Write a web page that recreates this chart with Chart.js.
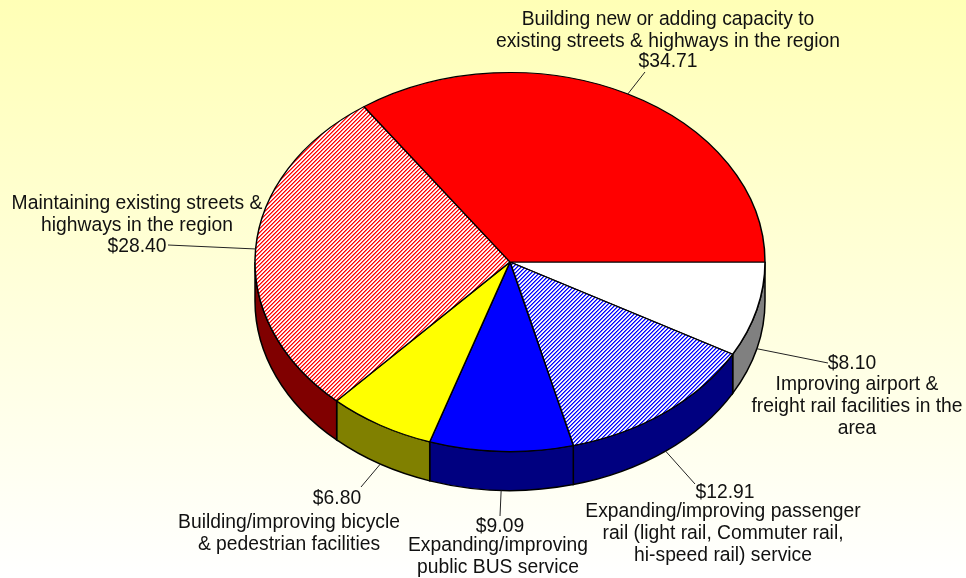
<!DOCTYPE html>
<html>
<head>
<meta charset="utf-8">
<style>
  html, body { margin: 0; padding: 0; width: 966px; height: 578px; overflow: hidden; background: linear-gradient(#ffffb6, #ffffff); }
  #wrap { position: absolute; left: 0; top: 0; width: 966px; height: 578px; }
</style>
<script src="https://cdn.jsdelivr.net/npm/chart.js@4"></script>
</head>
<body>
<div id="wrap"><canvas id="pie" width="966" height="578" role="img" aria-label="Spending by transportation category"></canvas></div>
<script>
// slices run clockwise from 3 o'clock
const categories = [
  'Improving airport & freight rail facilities in the area',
  'Expanding/improving passenger rail (light rail, Commuter rail, hi-speed rail) service',
  'Expanding/improving public BUS service',
  'Building/improving bicycle & pedestrian facilities',
  'Maintaining existing streets & highways in the region',
  'Building new or adding capacity to existing streets & highways in the region'
];
const values = [8.10, 12.91, 9.09, 6.80, 28.40, 34.71];
const labelLines = [
  ['Improving airport &', 'freight rail facilities in the', 'area'],
  ['Expanding/improving passenger', 'rail (light rail, Commuter rail,', 'hi-speed rail) service'],
  ['Expanding/improving', 'public BUS service'],
  ['Building/improving bicycle', '& pedestrian facilities'],
  ['Maintaining existing streets &', 'highways in the region'],
  ['Building new or adding capacity to', 'existing streets & highways in the region']
];
const topColors = ['#ffffff', 'hatch:#0000ff', '#0000ff', '#ffff00', 'hatch:#ff0000', '#ff0000'];
const wallColors = ['#808080', '#000080', '#000080', '#808000', '#800000', '#800000'];

// pie shape on the page
const pieCx = 510, pieCy = 262, pieRx = 255, pieRy = 189.5, pieDepth = 39;
const lineHeight = 22;
// text placement per slice: text block centre, value centre, leader end
const labelSpots = [
  { tx: 857, ty: 385, vx: 852, vy: 364, ex: 828, ey: 363 },
  { tx: 723, ty: 512, vx: 725, vy: 493, ex: 695, ey: 484 },
  { tx: 498, ty: 546, vx: 500, vy: 527, ex: 500, ey: 516 },
  { tx: 289, ty: 523, vx: 337, vy: 499, ex: 361, ey: 487 },
  { tx: 137, ty: 204, vx: 137, vy: 247, ex: 168, ey: 245 },
  { tx: 668, ty: 20,  vx: 668, vy: 62,  ex: 645, ey: 72 }
];

// fine diagonal hatch, soft edge on each stripe like the resampled original
function makeHatch(color) {
  const tile = document.createElement('canvas');
  tile.width = 4;
  tile.height = 4;
  const t = tile.getContext('2d');
  t.fillStyle = '#ffffff';
  t.fillRect(0, 0, 4, 4);
  t.fillStyle = color;
  const alphas = [1, 0.6, 0, 0.12];
  for (let y = 0; y < 4; y++) {
    for (let d = 0; d < 4; d++) {
      t.globalAlpha = alphas[d];
      t.fillRect((3 - y + d) % 4, y, 1, 1);
    }
  }
  return t.createPattern(tile, 'repeat');
}

const fills = topColors.map(c => c.startsWith('hatch:') ? makeHatch(c.slice(6)) : c);

const pie3d = {
  id: 'pie3d',
  beforeDatasetsDraw(chart) {
    const ctx = chart.ctx;
    const arcs = chart.getDatasetMeta(0).data;
    // side walls, only the front half of the rim can show
    ctx.save();
    ctx.lineWidth = 1.5;
    ctx.strokeStyle = '#000000';
    arcs.forEach((arc, i) => {
      const a0 = Math.max(arc.startAngle, 0);
      const a1 = Math.min(arc.endAngle, Math.PI);
      if (a1 <= a0) return;
      ctx.beginPath();
      ctx.ellipse(pieCx, pieCy, pieRx, pieRy, 0, a0, a1);
      ctx.ellipse(pieCx, pieCy + pieDepth, pieRx, pieRy, 0, a1, a0, true);
      ctx.closePath();
      ctx.fillStyle = wallColors[i];
      ctx.fill();
      ctx.stroke();
    });
    ctx.restore();
    // squash the round pie into an ellipse
    const k = pieRy / pieRx;
    const m = new DOMMatrix().translate(pieCx, pieCy).scale(1, k).translate(-arcs[0].x, -arcs[0].y);
    const inv = m.inverse();
    fills.forEach(f => { if (f instanceof CanvasPattern) f.setTransform(inv); });
    ctx.save();
    ctx.imageSmoothingEnabled = false;
    ctx.transform(m.a, m.b, m.c, m.d, m.e, m.f);
  },
  afterDatasetsDraw(chart) {
    const ctx = chart.ctx;
    ctx.restore();
    const arcs = chart.getDatasetMeta(0).data;
    ctx.save();
    ctx.font = '19.3px "Liberation Sans", Arial, sans-serif';
    ctx.textAlign = 'center';
    ctx.textBaseline = 'middle';
    ctx.fillStyle = '#111111';
    ctx.strokeStyle = '#222222';
    ctx.lineWidth = 1;
    arcs.forEach((arc, i) => {
      const spot = labelSpots[i];
      const mid = (arc.startAngle + arc.endAngle) / 2;
      const front = Math.sin(mid) > 0;
      ctx.beginPath();
      ctx.moveTo(pieCx + pieRx * Math.cos(mid), pieCy + pieRy * Math.sin(mid) + (front ? pieDepth : 0));
      ctx.lineTo(spot.ex, spot.ey);
      ctx.stroke();
      labelLines[i].forEach((line, j) => ctx.fillText(line, spot.tx, spot.ty + j * lineHeight));
      ctx.fillText('$' + values[i].toFixed(2), spot.vx, spot.vy);
    });
    ctx.restore();
  }
};

new Chart(document.getElementById('pie'), {
  type: 'pie',
  data: {
    labels: categories,
    datasets: [{
      data: values,
      backgroundColor: fills,
      borderColor: '#000000',
      borderWidth: 1.5
    }]
  },
  options: {
    responsive: false,
    animation: false,
    rotation: 90,
    radius: pieRx,
    events: [],
    plugins: { legend: { display: false }, tooltip: { enabled: false } }
  },
  plugins: [pie3d]
});
</script>
</body>
</html>
